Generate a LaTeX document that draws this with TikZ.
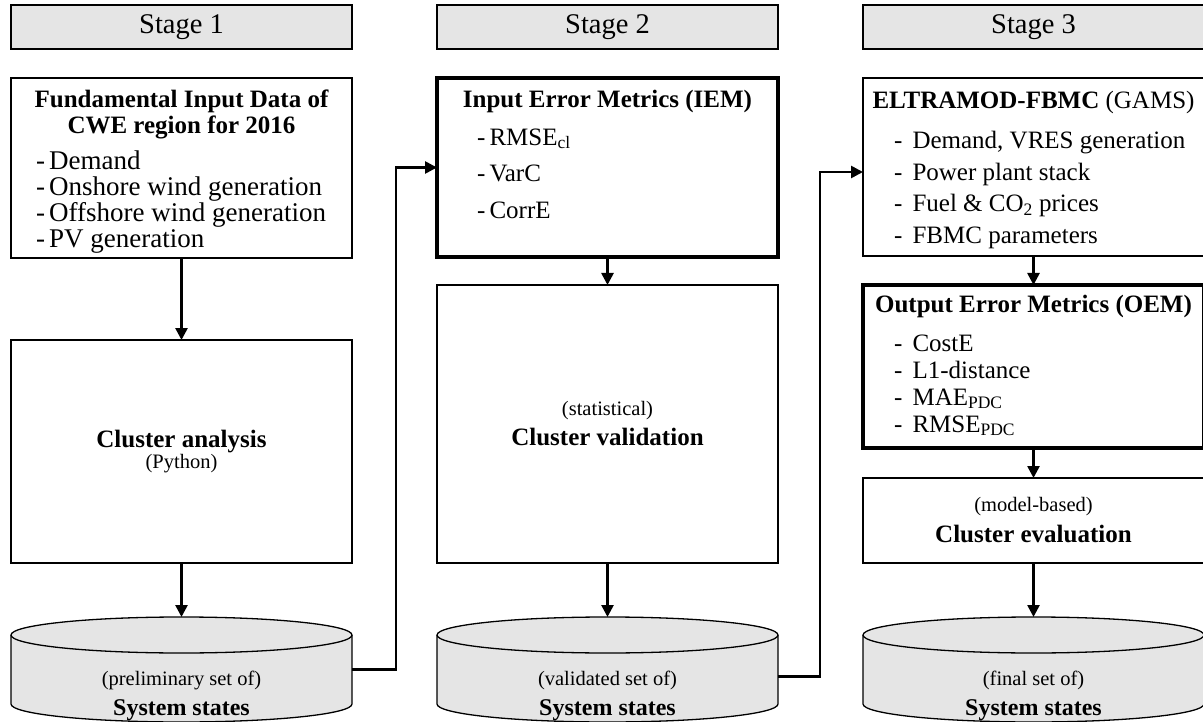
\documentclass[tikz,border=0pt]{standalone}
\usepackage{fontspec}
\setmainfont{Liberation Serif}
\usetikzlibrary{arrows.meta, positioning}
\tikzstyle{stagebox} = [rectangle, draw=black, line width=1.3pt, fill=gray!20, minimum width=341pt,
minimum height=44pt, inner sep=0pt, outer sep=0pt, font=\fontsize{28.5}{34}\selectfont]
\tikzstyle{stepbox} = [rectangle, draw=black, line width=1.3pt, fill=white, minimum width=341pt,
inner sep=0pt, outer sep=0pt]
\tikzstyle{metricbox} = [stepbox, line width=3.5pt]
\tikzstyle{cylbox} = [rectangle, minimum width=341pt, minimum height=105pt, inner sep=0pt, outer sep=0pt]
\tikzstyle{headtext} = [inner sep=0pt, align=center, font=\fontsize{25}{26}\selectfont\bfseries]
\tikzstyle{listtext} = [inner sep=0pt, align=left, anchor=north west]
\tikzstyle{midtext} = [inner sep=0pt, align=center]
\tikzstyle{arrow} = [line width=2.6pt, -{Triangle[length=12pt,width=12pt]}]
\newcommand{\dsh}{-\hspace{4pt}}
\newcommand{\dshw}{-\hspace{10pt}}
\newcommand{\smallf}{\fontsize{20.5}{22}\selectfont}
% cylinder drawn round an empty node
\newcommand{\cylshape}[1]{%
  \filldraw[fill=gray!20, line width=1.3pt]
    ([yshift=-18pt]#1.north west) arc[start angle=180, end angle=0, x radius=170.5pt, y radius=18pt]
    -- ([yshift=18pt]#1.south east) arc[start angle=0, end angle=-180, x radius=170.5pt, y radius=18pt] -- cycle;
  \draw[line width=1.3pt] ([yshift=-18pt]#1.north west) arc[start angle=180, end angle=360, x radius=170.5pt, y radius=18pt];
}
\begin{document}
\begin{tikzpicture}[x=1pt, y=-1pt]
      \useasboundingbox (0,0) rectangle (1203,722);

      \node (stage1) [stagebox] at (181.5,27) {Stage 1};
      \node (stage2) [stagebox, right=85pt of stage1] {Stage 2};
      \node (stage3) [stagebox, right=85pt of stage2] {Stage 3};

      \node (fund) [stepbox, minimum height=180pt, below=29pt of stage1] {};
      \node (clan) [stepbox, minimum height=223pt, below=82pt of fund] {};
      \node (ss1) [cylbox, below=54pt of clan] {};

      \node (iem) [metricbox, minimum height=179pt, below=29pt of stage2] {};
      \node (cval) [stepbox, minimum height=278pt, below=28pt of iem] {};
      \node (ss2) [cylbox, below=54pt of cval] {};

      \node (eltra) [stepbox, minimum height=178pt, below=29pt of stage3] {};
      \node (oem) [metricbox, minimum height=163pt, below=29pt of eltra] {};
      \node (ceval) [stepbox, minimum height=85pt, below=30pt of oem] {};
      \node (ss3) [cylbox, below=54pt of ceval] {};

      \cylshape{ss1}
      \cylshape{ss2}
      \cylshape{ss3}

      \node (fundhead) [headtext, below=12pt of fund.north] {Fundamental Input Data of\\CWE region for 2016};
      \node (fundlist) [listtext, font=\fontsize{27}{26}\selectfont, below right=73pt and 25pt of fund.north west]
      {\dsh Demand\\\dsh Onshore wind generation\\\dsh Offshore wind generation\\\dsh PV generation};
      \node (clantxt) [midtext, font=\fontsize{25}{21}\selectfont] at (clan)
      {\textbf{Cluster analysis}\\{\smallf (Python)}};
      \node (ss1txt) [midtext, font=\fontsize{24}{30}\selectfont, below=1pt of ss1.center]
      {{\smallf (preliminary set of)}\\\textbf{System states}};

      \node (iemhead) [headtext, below=12pt of iem.north] {Input Error Metrics (IEM)};
      \node (iemlist) [listtext, font=\fontsize{25}{36.5}\selectfont, below right=50.5pt and 40pt of iem.north west]
      {\dsh RMSE\textsubscript{cl}\\\dsh VarC\\\dsh CorrE};
      \node (cvaltxt) [midtext, font=\fontsize{25}{30}\selectfont] at (cval)
      {{\smallf (statistical)}\\\textbf{Cluster validation}};
      \node (ss2txt) [midtext, font=\fontsize{24}{30}\selectfont, below=1pt of ss2.center]
      {{\smallf (validated set of)}\\\textbf{System states}};

      \node (eltrahead) [headtext, below=13pt of eltra.north] {ELTRAMOD-FBMC {\mdseries (GAMS)}};
      \node (eltralist) [listtext, font=\fontsize{25}{31.5}\selectfont, below right=53pt and 31pt of eltra.north west]
      {\dshw Demand, VRES generation\\\dshw Power plant stack\\\dshw Fuel \& CO\textsubscript{2} prices\\\dshw FBMC parameters};
      \node (oemhead) [headtext, below=10pt of oem.north] {Output Error Metrics (OEM)};
      \node (oemlist) [listtext, font=\fontsize{25}{27}\selectfont, below right=49.5pt and 31pt of oem.north west]
      {\dshw CostE\\\dshw L1-distance\\\dshw MAE\textsubscript{PDC}\\\dshw RMSE\textsubscript{PDC}};
      \node (cevaltxt) [midtext, font=\fontsize{25}{31}\selectfont] at (ceval)
      {{\smallf (model-based)}\\\textbf{Cluster evaluation}};
      \node (ss3txt) [midtext, font=\fontsize{24}{30}\selectfont, below=1pt of ss3.center]
      {{\smallf (final set of)}\\\textbf{System states}};

      \draw [arrow] (fund) -- (clan);
      \draw [arrow] (clan) -- (ss1);
      \draw [arrow] (iem) -- (cval);
      \draw [arrow] (cval) -- (ss2);
      \draw [arrow] (eltra) -- (oem);
      \draw [arrow] (oem) -- (ceval);
      \draw [arrow] (ceval) -- (ss3);
      \draw [arrow] (ss1.east) -- ++(44,0) |- (iem.west);
      \draw [arrow] ([yshift=-7pt]ss2.east) -- ++(42,0) |- ([yshift=-5pt]eltra.west);
    \end{tikzpicture}
\end{document}
